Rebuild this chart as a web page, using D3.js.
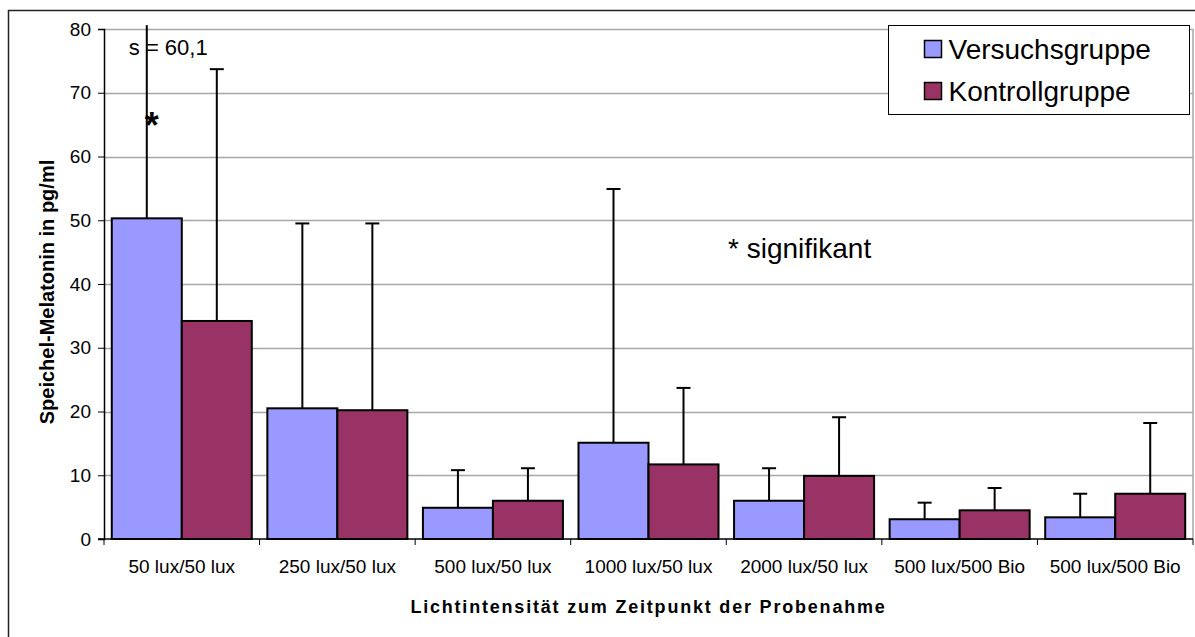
<!DOCTYPE html>
<html>
<head>
<meta charset="utf-8">
<script src="https://cdn.jsdelivr.net/npm/d3@7"></script>
<style>
  body { margin: 0; background: #fff; }
  text { font-family: "Liberation Sans", Arial, sans-serif; }
</style>
</head>
<body>
<div id="app"></div>
<script>
const container = document.querySelector('#app');

const width = 1195;
const height = 637;
const marginTop = 29;
const marginRight = 2;
const marginBottom = 98;
const marginLeft = 104;

// data
const categories = ["50 lux/50 lux", "250 lux/50 lux", "500 lux/50 lux", "1000 lux/50 lux",
  "2000 lux/50 lux", "500 lux/500 Bio", "500 lux/500 Bio"];
const series = ["Versuchsgruppe", "Kontrollgruppe"];
const versuchValues = [50.3, 20.5, 4.9, 15.1, 6.0, 3.1, 3.4];
const versuchErrors = [60.1, 29.0, 5.9, 39.8, 5.1, 2.6, 3.7];
const kontrollValues = [34.2, 20.2, 6.0, 11.7, 9.9, 4.5, 7.1];
const kontrollErrors = [39.5, 29.3, 5.1, 12.0, 9.2, 3.5, 11.1];
const yTicks = [0, 10, 20, 30, 40, 50, 60, 70, 80];
const colors = ["#9999ff", "#993366"];

const rows = categories.map((c, i) => ({
  key: i,
  label: c,
  bars: [
    { s: 0, value: versuchValues[i], err: versuchErrors[i] },
    { s: 1, value: kontrollValues[i], err: kontrollErrors[i] }
  ]
}));

const x = d3.scaleBand()
    .domain(d3.range(categories.length))
    .range([marginLeft, width - marginRight])
    .paddingInner(0.1)
    .paddingOuter(0.05);

const xs = d3.scaleBand()
    .domain([0, 1])
    .range([0, x.bandwidth()]);

const y = d3.scaleLinear()
    .domain([0, 80])
    .range([height - marginBottom, marginTop]);

const svg = d3.create("svg")
    .attr("width", width)
    .attr("height", height);

// outer frame
svg.append("rect")
    .attr("x", 8.5).attr("y", 10.5)
    .attr("width", width).attr("height", height)
    .attr("fill", "none")
    .attr("stroke", "#222")
    .attr("stroke-width", 1.5);

// gridlines
svg.append("g")
  .selectAll("line")
  .data(yTicks.filter(d => d > 0))
  .join("line")
    .attr("x1", marginLeft)
    .attr("x2", width - marginRight)
    .attr("y1", d => Math.round(y(d)) + 0.5)
    .attr("y2", d => Math.round(y(d)) + 0.5)
    .attr("stroke", "#a6a6a6")
    .attr("stroke-width", 1.5);

// right border of plot area
svg.append("line")
    .attr("x1", width - marginRight).attr("x2", width - marginRight)
    .attr("y1", y(80)).attr("y2", y(0))
    .attr("stroke", "#a6a6a6")
    .attr("stroke-width", 1.5);

// bars
const group = svg.append("g")
  .selectAll("g")
  .data(rows)
  .join("g")
    .attr("transform", d => `translate(${x(d.key)},0)`);

group.selectAll("rect")
  .data(d => d.bars)
  .join("rect")
    .attr("x", d => xs(d.s))
    .attr("y", d => y(d.value))
    .attr("width", xs.bandwidth())
    .attr("height", d => y(0) - y(d.value))
    .attr("fill", d => colors[d.s])
    .attr("stroke", "#000")
    .attr("stroke-width", 2);

// error bars (upper only, clipped a little above the plot top)
const errTop = d => y(Math.min(d.value + d.err, 80.6));
group.selectAll("line.stem")
  .data(d => d.bars)
  .join("line")
    .attr("class", "stem")
    .attr("x1", d => xs(d.s) + xs.bandwidth() / 2)
    .attr("x2", d => xs(d.s) + xs.bandwidth() / 2)
    .attr("y1", d => y(d.value))
    .attr("y2", errTop)
    .attr("stroke", "#000")
    .attr("stroke-width", 2);

group.selectAll("line.cap")
  .data(d => d.bars.filter(b => b.value + b.err <= 80))
  .join("line")
    .attr("class", "cap")
    .attr("x1", d => xs(d.s) + xs.bandwidth() / 2 - 7)
    .attr("x2", d => xs(d.s) + xs.bandwidth() / 2 + 7)
    .attr("y1", errTop)
    .attr("y2", errTop)
    .attr("stroke", "#000")
    .attr("stroke-width", 2);

// y axis
const yAxis = svg.append("g")
    .attr("transform", `translate(${marginLeft},0)`)
    .call(d3.axisLeft(y).tickValues(yTicks).tickSize(6).tickPadding(7));
yAxis.selectAll("text")
    .attr("font-size", 19)
    .attr("fill", "#000")
    .style("font-family", "'Liberation Sans', Arial, sans-serif");
yAxis.select(".domain").attr("stroke", "#000").attr("stroke-width", 1.5);
yAxis.selectAll(".tick line").attr("stroke", "#000");

// x axis
const xAxisG = svg.append("g")
    .attr("transform", `translate(0,${y(0)})`);
xAxisG.append("line")
    .attr("x1", marginLeft - 6).attr("x2", width - marginRight)
    .attr("stroke", "#000")
    .attr("stroke-width", 1.5);
xAxisG.selectAll("line.tick")
  .data(d3.range(categories.length + 1))
  .join("line")
    .attr("class", "tick")
    .attr("x1", i => i < categories.length ? x(i) - x.step() * 0.05 : width - marginRight)
    .attr("x2", i => i < categories.length ? x(i) - x.step() * 0.05 : width - marginRight)
    .attr("y1", 0).attr("y2", 6)
    .attr("stroke", "#000");
xAxisG.selectAll("text")
  .data(rows)
  .join("text")
    .attr("x", d => x(d.key) + x.bandwidth() / 2)
    .attr("y", 34)
    .attr("text-anchor", "middle")
    .attr("font-size", 19)
    .text(d => d.label);

// axis titles
svg.append("text")
    .attr("x", (marginLeft + width - marginRight) / 2)
    .attr("y", 613)
    .attr("text-anchor", "middle")
    .attr("font-size", 18)
    .attr("font-weight", "bold")
    .attr("letter-spacing", 1.8)
    .text("Lichtintensität zum Zeitpunkt der Probenahme");

svg.append("text")
    .attr("transform", `translate(54,292) rotate(-90)`)
    .attr("text-anchor", "middle")
    .attr("font-size", 20)
    .attr("font-weight", "bold")
    .text("Speichel-Melatonin in pg/ml");

// annotations
svg.append("text")
    .attr("x", x(0) + 17).attr("y", 55)
    .attr("font-size", 22)
    .text("s = 60,1");

svg.append("text")
    .attr("x", x(0) + 33).attr("y", 138)
    .attr("font-size", 36)
    .attr("font-weight", "bold")
    .text("*");

svg.append("text")
    .attr("x", 728).attr("y", 258)
    .attr("font-size", 28)
    .text("* signifikant");

// legend
const legend = svg.append("g")
    .attr("transform", "translate(888.5,25.5)");
legend.append("rect")
    .attr("width", 301).attr("height", 89)
    .attr("fill", "#fff")
    .attr("stroke", "#000");
const item = legend.selectAll("g")
  .data(series)
  .join("g")
    .attr("transform", (d, i) => `translate(36,${15 + i * 42})`);
item.append("rect")
    .attr("width", 17).attr("height", 17)
    .attr("fill", (d, i) => colors[i])
    .attr("stroke", "#000")
    .attr("stroke-width", 1.5);
item.append("text")
    .attr("x", 24).attr("y", 18)
    .attr("font-size", 28)
    .text(d => d);

container.append(svg.node());
</script>
</body>
</html>
